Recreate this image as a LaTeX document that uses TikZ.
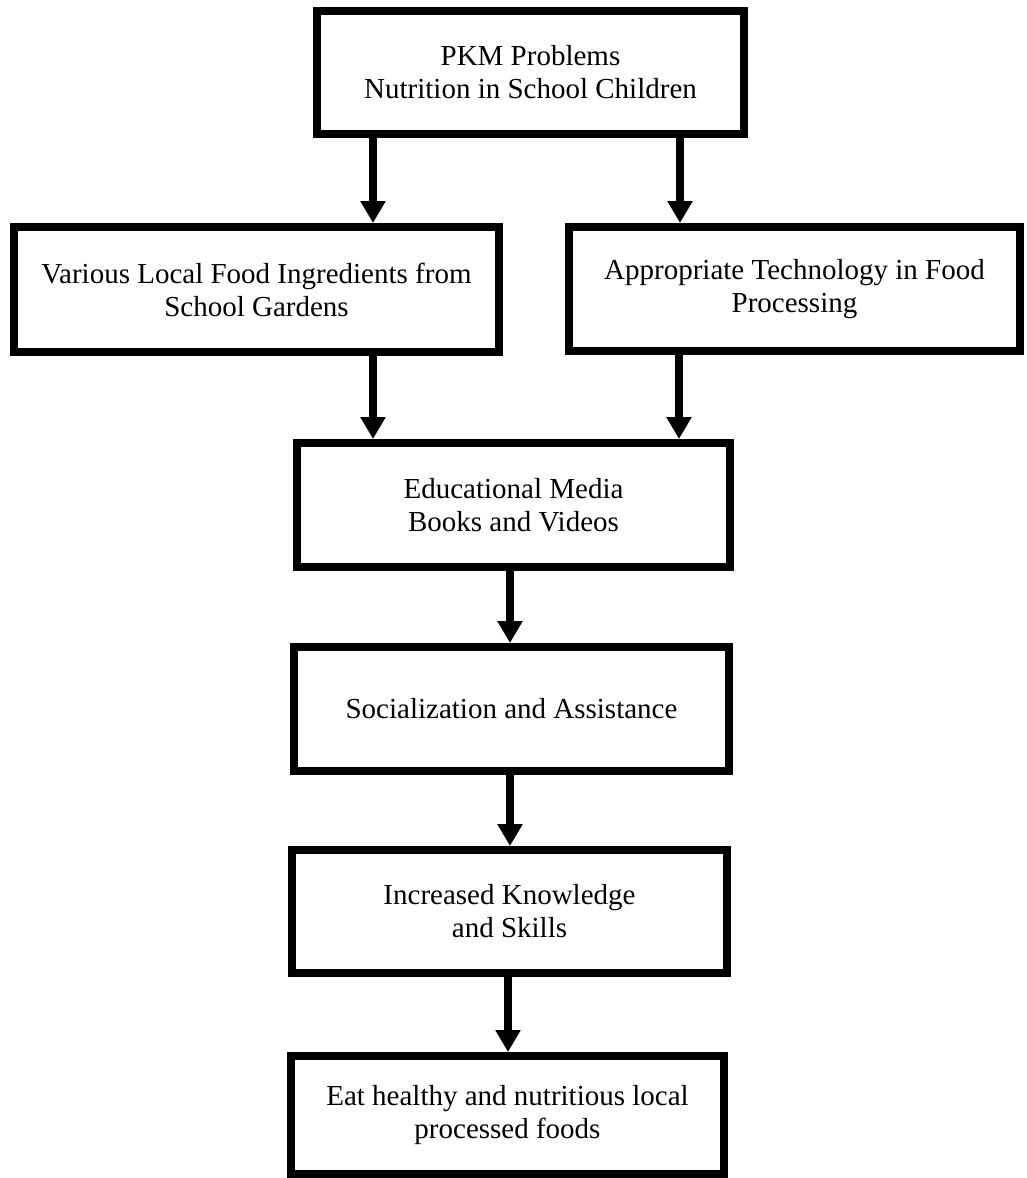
\documentclass[tikz,border=0pt]{standalone}
\usepackage{fontspec}
\setmainfont{Liberation Serif}
\usetikzlibrary{arrows.meta}

\begin{document}
\begin{tikzpicture}[x=0.5pt,y=-0.5pt,
    box/.style={draw,line width=4pt,align=center,inner sep=0pt,
      font=\fontsize{14.5}{16.5}\selectfont},
    flow/.style={line width=4pt,-{Triangle[width=12pt,length=11pt]}}]
  \useasboundingbox (0,0) rectangle (1027,1178);
  % boxes
  \node[box,minimum width=213.5pt,minimum height=61.5pt] (prob) at (530.5,72.5)
    {PKM Problems\\Nutrition in School Children};
  \node[box,minimum width=242.5pt,minimum height=62.5pt] (garden) at (256.5,289.5)
    {Various Local Food Ingredients from\\School Gardens};
  \node[box,minimum width=225.5pt,minimum height=62pt] (tech) at (794.5,289)
    {Appropriate Technology in Food\\Processing};
  \node[box,minimum width=216.5pt,minimum height=62pt] (media) at (513.5,505)
    {Educational Media\\Books and Videos};
  \node[box,minimum width=217.5pt,minimum height=62pt] (social) at (511.5,709)
    {Socialization and Assistance};
  \node[box,minimum width=217.5pt,minimum height=61.5pt] (skill) at (509.5,911.5)
    {Increased Knowledge\\and Skills};
  \node[box,minimum width=216.5pt,minimum height=59pt] (food) at (507.5,1115)
    {Eat healthy and nutritious local\\processed foods};
  % arrows
  \draw[flow] (prob.south -| 373,0) -- (garden.north -| 373,0);
  \draw[flow] (prob.south -| 680,0) -- (tech.north -| 680,0);
  \draw[flow] (garden.south -| 373,0) -- (media.north -| 373,0);
  \draw[flow] (tech.south -| 679,0) -- (media.north -| 679,0);
  \draw[flow] (media.south -| 510,0) -- (social.north -| 510,0);
  \draw[flow] (social.south -| 510,0) -- (skill.north -| 510,0);
  \draw[flow] (skill.south -| 508,0) -- (food.north -| 508,0);
\end{tikzpicture}
\end{document}
